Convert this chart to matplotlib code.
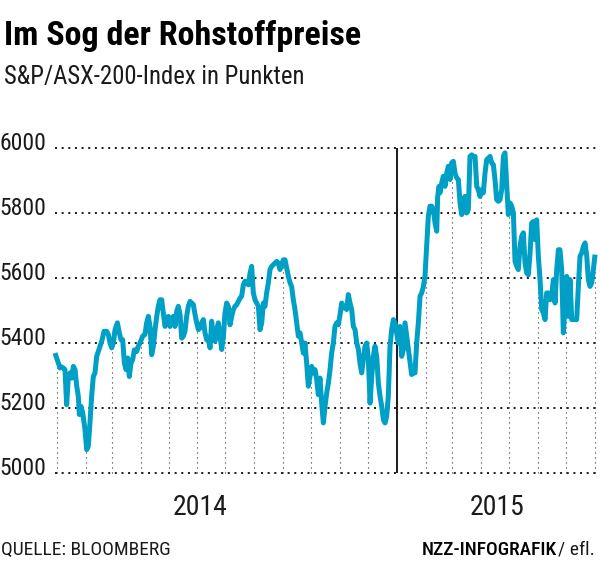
import numpy as np
import pandas as pd
import matplotlib
matplotlib.use("Agg")
import matplotlib.pyplot as plt
import matplotlib.dates as mdates
import matplotlib.transforms as mtransforms
from matplotlib import font_manager as fm

# ---------------- data ----------------
# trading days, expressed as days after 2014-01-01
day_offsets = [
    -1.8, 1.8, 3.6, 5.4, 7.2, 8.9, 10.7, 12.5, 14.3, 16.1, 17.9, 19.7, 21.5, 23.2, 24.3,
    26.1, 27.9, 30.4, 32.2, 33.9, 35.7, 37.5, 39.3, 41.1, 42.9, 46.5, 48.3, 50.8, 53.6,
    55.4, 57.2, 59.0, 60.8, 62.6, 65.1, 67.2, 69.0, 70.8, 72.6, 74.4, 76.2, 77.9, 79.7,
    81.5, 83.3, 85.8, 87.6, 89.4, 92.2, 94.7, 96.5, 98.3, 100.1, 101.9, 103.7, 105.5,
    107.3, 109.0, 110.8, 112.6, 114.4, 116.2, 118.0, 119.8, 121.6, 123.3, 125.1, 126.9,
    128.7, 130.5, 132.3, 134.1, 135.9, 137.6, 139.4, 141.2, 143.0, 144.8, 146.6, 148.4,
    150.2, 152.0, 153.7, 155.5, 157.3, 159.1, 160.9, 162.7, 164.5, 166.2, 168.0, 169.8,
    171.6, 173.4, 175.2, 177.0, 178.8, 180.5, 182.3, 184.1, 185.9, 187.7, 189.5, 191.3,
    193.1, 194.8, 196.6, 198.4, 200.2, 202.0, 203.8, 205.6, 207.4, 209.1, 210.9, 212.7,
    214.5, 216.3, 218.1, 219.9, 221.7, 223.4, 225.2, 227.0, 228.8, 230.6, 232.4, 234.2,
    236.0, 237.7, 239.5, 241.3, 243.1, 244.9, 246.7, 248.5, 250.3, 252.0, 253.8, 255.6,
    257.4, 259.2, 261.0, 262.8, 264.6, 266.3, 268.1, 269.9, 271.7, 273.5, 275.3, 277.1,
    278.9, 280.6, 282.4, 284.2, 286.0, 287.8, 289.6, 291.4, 293.2, 294.9, 296.7, 298.5,
    300.3, 302.1, 303.9, 305.7, 307.5, 309.3, 311.0, 312.8, 314.6, 316.4, 318.2, 320.0,
    321.8, 323.6, 325.3, 327.1, 328.9, 330.7, 332.5, 334.3, 336.1, 337.9, 339.6, 341.4,
    343.2, 345.0, 346.8, 348.6, 350.4, 352.2, 353.9, 355.7, 357.5, 359.3, 361.1, 362.9,
    364.7, 366.4, 368.2, 370.0, 371.8, 373.6, 375.4, 377.2, 379.0, 380.7, 382.5, 384.3,
    386.1, 387.9, 389.7, 391.5, 393.3, 395.0, 396.8, 398.6, 400.4, 402.2, 404.0, 405.8,
    407.6, 408.6, 410.1, 411.1, 412.9, 414.7, 416.5, 418.3, 420.1, 421.9, 423.6, 425.4,
    427.2, 429.0, 430.8, 432.6, 434.4, 436.2, 437.9, 439.7, 441.5, 443.3, 445.1, 446.9,
    448.7, 450.5, 452.2, 454.0, 455.8, 457.6, 459.4, 461.2, 463.0, 464.8, 466.5, 468.3,
    470.1, 471.9, 473.7, 475.5, 477.3, 479.1, 480.8, 482.6, 484.4, 486.2, 488.0, 489.8,
    491.6, 493.4, 495.1, 496.9, 498.7, 500.5, 502.3, 504.1, 505.9, 507.7, 509.4, 511.2,
    513.0, 514.8, 516.6, 518.4, 520.2, 522.0, 523.8, 525.5, 527.3, 529.1, 530.9, 532.7,
    534.5, 536.3, 538.1, 539.8, 541.6, 543.4, 545.2, 547.0, 548.8, 550.6, 552.4, 554.1,
    555.9, 557.7, 559.5, 561.3, 563.1, 564.9, 566.7, 568.5, 570.2, 572.0, 573.8, 575.6,
    577.4,
]
index_points = [
    5369, 5338, 5323, 5326, 5323, 5318, 5210, 5297, 5308, 5292, 5328, 5318, 5267, 5236, 5180,
    5205, 5185, 5133, 5072, 5082, 5154, 5236, 5297, 5308, 5359, 5390, 5405, 5436, 5436,
    5426, 5400, 5385, 5400, 5441, 5462, 5431, 5410, 5410, 5338, 5318, 5354, 5297, 5338,
    5349, 5379, 5374, 5390, 5400, 5421, 5426, 5462, 5482, 5451, 5364, 5390, 5441,
    5482, 5513, 5533, 5533, 5492, 5451, 5467, 5482, 5451, 5472, 5482, 5451,
    5497, 5513, 5487, 5415, 5421, 5436, 5482, 5513, 5528, 5523, 5518, 5487,
    5462, 5441, 5446, 5462, 5472, 5431, 5410, 5410, 5385, 5467, 5421, 5405,
    5441, 5462, 5421, 5380, 5421, 5492, 5523, 5513, 5456, 5482, 5503, 5513,
    5518, 5528, 5538, 5544, 5579, 5590, 5585, 5579, 5615, 5636, 5554, 5533,
    5523, 5513, 5441, 5462, 5523, 5513, 5554, 5585, 5626, 5636, 5641, 5646,
    5651, 5646, 5626, 5641, 5656, 5656, 5631, 5605, 5585, 5574, 5533, 5503,
    5462, 5421, 5431, 5400, 5369, 5400, 5338, 5267, 5297, 5328, 5308, 5318,
    5287, 5241, 5292, 5215, 5154, 5205, 5246, 5277, 5318, 5369, 5400, 5451,
    5462, 5456, 5487, 5523, 5508, 5513, 5503, 5549, 5523, 5503, 5451, 5441,
    5400, 5380, 5338, 5308, 5349, 5390, 5400, 5349, 5215, 5297, 5359, 5390,
    5359, 5277, 5236, 5205, 5164, 5154, 5174, 5236, 5390, 5441, 5472, 5462,
    5431, 5400, 5451, 5359, 5379, 5462, 5421, 5379, 5338, 5303, 5308, 5308,
    5400, 5462, 5544, 5554, 5574, 5605, 5697, 5790, 5821, 5821, 5810, 5769,
    5744, 5851, 5882, 5862, 5892, 5913, 5882, 5923, 5944, 5903, 5954, 5959,
    5923, 5908, 5903, 5831, 5795, 5841, 5851, 5800, 5810, 5974, 5979, 5974,
    5974, 5882, 5872, 5851, 5872, 5862, 5923, 5964, 5969, 5974, 5954, 5949,
    5903, 5841, 5836, 5841, 5872, 5974, 5985, 5892, 5795, 5831, 5821, 5800,
    5651, 5636, 5626, 5697, 5728, 5739, 5646, 5615, 5610, 5677, 5769, 5774,
    5718, 5779, 5667, 5595, 5503, 5492, 5472, 5554, 5554, 5533, 5544, 5595,
    5523, 5626, 5687, 5687, 5626, 5431, 5513, 5605, 5482, 5595, 5472, 5472,
    5472, 5472, 5574, 5667, 5677, 5697, 5708, 5667, 5595, 5574, 5585, 5626,
    5672,
]

y_ticks = [5000, 5200, 5400, 5600, 5800, 6000]
y_tick_labels = ["5000", "5200", "5400", "5600", "5800", "6000"]
year_labels = ["2014", "2015"]

title = "Im Sog der Rohstoffpreise"
subtitle = "S&P/ASX-200-Index in Punkten"
source = "QUELLE: BLOOMBERG"
credit_bold = "NZZ-INFOGRAFIK"
credit_rest = "/ efl."

# ---------------- font choice: a condensed family with static bold ----------------
_entries = fm.fontManager.ttflist
_pref = ["Roboto Condensed", "Asap Condensed", "Barlow Condensed", "Archivo Narrow",
         "Liberation Sans Narrow", "DejaVu Sans"]
FONT = "DejaVu Sans"
for p in _pref:
    ws = {f.weight for f in _entries if f.name == p and f.style == "normal"}
    if 400 in ws and 700 in ws:
        FONT = p
        break
FAM = [FONT, "DejaVu Sans"]

LINE_COLOR = "#00a0c6"
TXT = "#1a1a1a"

W, H = 600, 569
fig = plt.figure(figsize=(W / 100, H / 100), dpi=100)
fig.patch.set_facecolor("white")


def px(x, y):
    return x / W, 1 - y / H


ax_l, ax_r, ax_t, ax_b = 55, 597, 148, 473
ax = fig.add_axes([ax_l / W, 1 - ax_b / H, (ax_r - ax_l) / W, (ax_b - ax_t) / H])
for s in ax.spines.values():
    s.set_visible(False)
ax.set_xticks([])
ax.set_yticks([])

base = pd.Timestamp("2014-01-01")
dates = base + pd.to_timedelta(np.array(day_offsets), unit="D")
vals = np.array(index_points, dtype=float)
xnum = mdates.date2num(dates)

x0 = mdates.date2num(base + pd.Timedelta(days=-1.8))
x1 = mdates.date2num(base + pd.Timedelta(days=579.5))
ax.set_xlim(x0, x1)
ax.set_ylim(5000, 6000)

# horizontal dotted grid
for yv in y_ticks:
    ax.plot([x0, x1], [yv, yv], color="#222222", lw=1.45, linestyle=(0, (1, 2.3)),
            dash_capstyle="butt", zorder=1, clip_on=False)

# monthly drop lines from the bottom up to the series
months = pd.date_range("2014-01-01", "2015-08-01", freq="MS")
for m in months:
    mx = mdates.date2num(m)
    if m == pd.Timestamp("2015-01-01"):
        ax.plot([mx, mx], [5000, 6000], color="#1a1a1a", lw=1.4, zorder=2,
                solid_capstyle="butt", clip_on=False)
        continue
    top = np.interp(mx, xnum, vals)
    ax.plot([mx, mx], [5000, top], color="#333333", lw=0.8, linestyle=(0, (1, 3.5)),
            zorder=1, clip_on=False)

# the series
ax.plot(xnum, vals, color=LINE_COLOR, lw=3.6, solid_joinstyle="round",
        solid_capstyle="butt", zorder=3, clip_on=False)

# y labels
ylab_tr = mtransforms.blended_transform_factory(fig.transFigure, ax.transData) + \
    mtransforms.ScaledTranslation(0, -2 / 100, fig.dpi_scale_trans)
for yv, lab in zip(y_ticks, y_tick_labels):
    ax.text(46 / W, yv, lab, transform=ylab_tr, ha="right", va="baseline",
            fontsize=17, family=FAM, color=TXT, clip_on=False)

# year labels
year_pos = [(200, 515), (497, 515)]
for lab, (xx, yy) in zip(year_labels, year_pos):
    fig.text(*px(xx, yy), lab, ha="center", va="baseline", fontsize=20,
             family=FAM, color=TXT)

# title and subtitle
fig.text(*px(4, 45), title, ha="left", va="baseline", fontsize=24.5,
         fontweight="bold", family=FAM, color="#000000")
fig.text(*px(4, 84), subtitle, ha="left", va="baseline", fontsize=17.8,
         family=FAM, color=TXT)

# footer
fig.text(*px(1, 555), source, ha="left", va="baseline", fontsize=14,
         family=FAM, color=TXT)
t_rest = fig.text(*px(595, 555), credit_rest, ha="right", va="baseline", fontsize=14,
                  family=FAM, color=TXT)
fig.canvas.draw()
bb = t_rest.get_window_extent(renderer=fig.canvas.get_renderer())
fig.text(bb.x0 / W - 1 / W, 1 - 555 / H, credit_bold, ha="right", va="baseline",
         fontsize=14, fontweight="medium", family=FAM, color="#000000")

fig.savefig("out.png", dpi=100, facecolor="white")
